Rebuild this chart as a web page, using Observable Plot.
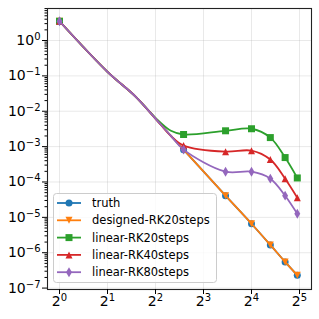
<!DOCTYPE html>
<html><head><meta charset="utf-8">
<script src="https://cdn.jsdelivr.net/npm/d3@7"></script>
<script src="https://cdn.jsdelivr.net/npm/@observablehq/plot@0.6"></script>
<style>
html,body{margin:0;padding:0;background:#fff;}
#chart{width:319px;height:319px;}
</style></head><body><div id="chart"></div>
<script>
// ---- data ----
const steps       = [1, 2, 3, 4, 5, 6, 11, 16, 21, 26, 31];
const markerSteps = [1, 6, 11, 16, 21, 26, 31];
const truth       = [3.5, 0.13, 0.026, 6.2e-3, 2.0e-3, 8.2e-4, 4.1e-5, 6.6e-6, 1.66e-6, 5.5e-7, 2.3e-7];
const designedRK20= [3.5, 0.13, 0.026, 6.2e-3, 2.0e-3, 8.2e-4, 4.1e-5, 6.6e-6, 1.66e-6, 5.5e-7, 2.3e-7];
const linearRK20  = [3.5, 0.13, 0.026, 6.5e-3, 2.8e-3, 2.2e-3, 2.8e-3, 3.2e-3, 1.8e-3, 4.9e-4, 1.3e-4];
const linearRK40  = [3.5, 0.13, 0.026, 6.2e-3, 2.0e-3, 1.07e-3, 7.2e-4, 7.7e-4, 4.3e-4, 1.24e-4, 3.6e-5];
const linearRK80  = [3.5, 0.13, 0.026, 6.2e-3, 2.0e-3, 8.2e-4, 1.95e-4, 1.95e-4, 1.24e-4, 4.1e-5, 1.26e-5];
const seriesNames = ["truth", "designed-RK20steps", "linear-RK20steps", "linear-RK40steps", "linear-RK80steps"];
const seriesValues = [truth, designedRK20, linearRK20, linearRK40, linearRK80];
const colors = ["#1f77b4", "#ff7f0e", "#2ca02c", "#d62728", "#9467bd"];
const xTicks = [1, 2, 4, 8, 16, 32];
const yTicks = [1e-7, 1e-6, 1e-5, 1e-4, 1e-3, 1e-2, 1e-1, 1e0];

// ---- marker shapes (matplotlib-like) ----
const mk = f => ({draw(ctx, size){ const r = Math.sqrt(size / Math.PI); f(ctx, r); }});
const symCircle = mk((c, r) => { c.moveTo(r, 0); c.arc(0, 0, r, 0, 2 * Math.PI); c.closePath(); });
const symTriDown = mk((c, r) => { c.moveTo(0, r); c.lineTo(-r, -r); c.lineTo(r, -r); c.closePath(); });
const symSquare = mk((c, r) => { c.moveTo(-r, -r); c.lineTo(r, -r); c.lineTo(r, r); c.lineTo(-r, r); c.closePath(); });
const symTriUp = mk((c, r) => { c.moveTo(0, -r); c.lineTo(r, r); c.lineTo(-r, r); c.closePath(); });
const symThinDiamond = mk((c, r) => { const h = r * 1.41, w = r * 0.85; c.moveTo(0, -h); c.lineTo(w, 0); c.lineTo(0, h); c.lineTo(-w, 0); c.closePath(); });
const symbols = [symCircle, symTriDown, symSquare, symTriUp, symThinDiamond];
const markerR = 3.5;

// long-form table
const rows = [];
seriesNames.forEach((name, si) => {
  steps.forEach((s, i) => rows.push({series: name, step: s, value: seriesValues[si][i]}));
});

const minorTicks = [];
for (let k = -8; k <= 1; k++) for (let m = 2; m <= 9; m++) {
  const v = m * Math.pow(10, k);
  const lv = Math.log10(v);
  if (lv > -7.04 && lv < 0.905) minorTicks.push(v);
}

const marks = [
  Plot.gridX(xTicks, {stroke: "#b0b0b0", strokeOpacity: 0.35, strokeWidth: 0.8}),
  Plot.gridY(yTicks, {stroke: "#b0b0b0", strokeOpacity: 0.35, strokeWidth: 0.8})
];
seriesNames.forEach((name, si) => {
  const data = rows.filter(d => d.series === name);
  marks.push(Plot.line(data, {x: "step", y: "value", stroke: colors[si], strokeWidth: 1.8, curve: "catmull-rom"}));
  marks.push(Plot.dot(data.filter(d => markerSteps.includes(d.step)), {x: "step", y: "value", fill: colors[si], stroke: "none", r: markerR, symbol: symbols[si]}));
});
marks.push(
  Plot.frame({stroke: "#222", strokeWidth: 1.1}),
  Plot.axisX(xTicks, {tickSize: 5, tickPadding: 2, tickFormat: d => "2^" + Math.round(Math.log2(d)), label: null}),
  Plot.axisY(yTicks, {tickSize: 5, tickPadding: 2, tickFormat: d => { const e = Math.round(Math.log10(d)); return "10^" + (e < 0 ? "\u2212" + (-e) : e); }, label: null}),
  Plot.axisY(minorTicks, {tickSize: 2.5, tickFormat: () => "", label: null})
);

const svg = Plot.plot({
  width: 319, height: 319,
  marginLeft: 47, marginRight: 8, marginTop: 8, marginBottom: 30,
  style: {fontFamily: "DejaVu Sans", fontSize: "14px", background: "#fff", color: "#000"},
  x: {type: "log", base: 2, domain: [Math.pow(2, -0.25), Math.pow(2, 5.25)], label: null},
  y: {type: "log", domain: [Math.pow(10, -7.04), Math.pow(10, 0.905)], label: null},
  marks
});

// superscript tick labels
d3.select(svg).selectAll("text").each(function () {
  const m = /^(\d+)\^(.+)$/.exec(this.textContent);
  if (!m) return;
  const el = d3.select(this);
  el.text(null);
  el.append("tspan").attr("font-size", "14px").text(m[1]);
  el.append("tspan").attr("dy", "-5").attr("font-size", "10px").text(m[2]);
});

// legend (inside plot, lower left)
const lg = d3.select(svg).append("g").attr("class", "legend").attr("text-anchor", "start");
lg.append("rect").attr("x", 53.5).attr("y", 193.5).attr("width", 163).attr("height", 89).attr("rx", 3)
  .attr("fill", "#fff").attr("fill-opacity", 0.8).attr("stroke", "#cccccc").attr("stroke-width", 1);
seriesNames.forEach((name, si) => {
  const y = 203 + si * 17.3;
  lg.append("line").attr("x1", 57).attr("x2", 81).attr("y1", y).attr("y2", y)
    .attr("stroke", colors[si]).attr("stroke-width", 1.8);
  const p = d3.path();
  symbols[si].draw(p, markerR * markerR * Math.PI);
  lg.append("path").attr("d", p.toString()).attr("transform", `translate(69,${y})`).attr("fill", colors[si]);
  lg.append("text").attr("x", 92).attr("y", y).attr("dy", "0.36em").attr("font-size", "11.5px")
    .attr("text-anchor", "start").attr("font-family", "DejaVu Sans").attr("fill", "#000").text(name);
});

document.getElementById("chart").appendChild(svg);
</script>
</body></html>
